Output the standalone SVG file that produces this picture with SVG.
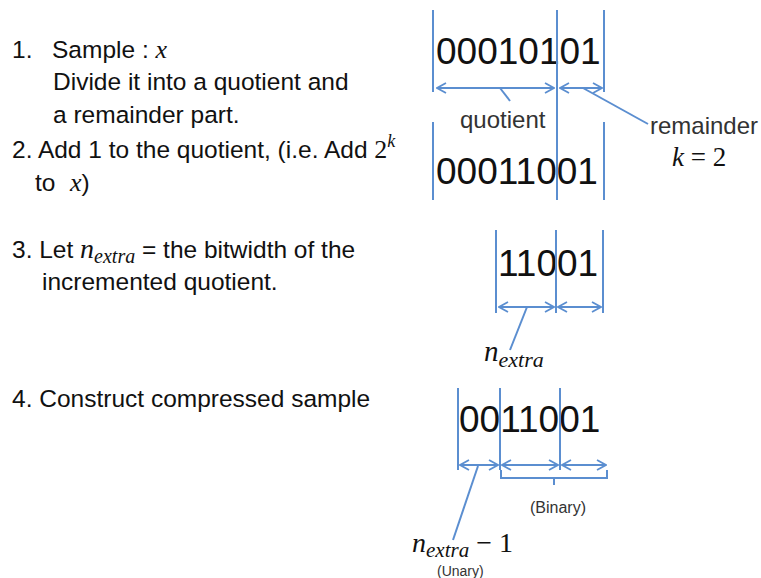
<svg xmlns="http://www.w3.org/2000/svg" width="761" height="578" viewBox="0 0 761 578">
<defs>
<marker id="ah" viewBox="0 0 12 12" refX="11" refY="6" markerWidth="12" markerHeight="12" markerUnits="userSpaceOnUse" orient="auto-start-reverse">
<path d="M2,1 L11,6 L2,11" fill="none" stroke="#5B8ED0" stroke-width="1.8"/>
</marker>
<style>
.t{font-family:"Liberation Sans",Arial,sans-serif;font-size:24.5px;fill:#111}
.m{font-family:"Liberation Serif","DejaVu Serif",serif;font-style:italic;fill:#111}
.r{font-family:"Liberation Serif","DejaVu Serif",serif;fill:#111}
.d{font-family:"Liberation Sans",Arial,sans-serif;font-size:37px;fill:#111}
.s{font-family:"Liberation Sans",Arial,sans-serif;fill:#333}
.ln{stroke:#5B8ED0;stroke-width:2;fill:none}
.ar{stroke:#5B8ED0;stroke-width:2;fill:none;marker-start:url(#ah);marker-end:url(#ah)}
</style>
</defs>
<rect width="761" height="578" fill="#fff"/>
<g id="steps">
<text class="t" x="12" y="58">1.<tspan x="52">Sample : </tspan><tspan class="m" font-size="26">x</tspan></text>
<text class="t" x="53" y="90">Divide it into a quotient and</text>
<text class="t" x="53" y="123">a remainder part.</text>
<text class="t" x="12" y="158">2. Add 1 to the quotient, (i.e. Add <tspan class="r" font-size="26">2</tspan><tspan class="m" font-size="18" dy="-11">k</tspan></text>
<text class="t" x="35" y="191">to<tspan class="m" font-size="26" x="70">x</tspan>)</text>
<text class="t" x="12" y="258">3. Let <tspan class="m" font-size="28">n</tspan><tspan class="m" font-size="20" dy="5">extra</tspan><tspan dy="-5"> = the bitwidth of the</tspan></text>
<text class="t" x="42" y="290">incremented quotient.</text>
<text class="t" x="12" y="407">4. Construct compressed sample</text>
</g>
<g id="sample1">
<text class="d" x="436" y="64">00010101</text>
</g>
<g id="sample2">
<text class="d" x="436" y="184">00011001</text>
</g>
<g id="sample3">
<text class="d" x="498" y="276">11001</text>
</g>
<g id="sample4">
<text class="d" x="459" y="432">0011001</text>
</g>
<g id="labels">
<text class="s" x="460" y="128" font-size="24">quotient</text>
<text class="s" x="650" y="134" font-size="24" fill="#111">remainder</text>
<text class="m" x="672" y="166" font-size="27">k<tspan class="r" font-style="normal"> = 2</tspan></text>
<text class="m" x="484" y="361" font-size="29">n<tspan font-size="22" dy="6">extra</tspan></text>
<text class="s" x="530" y="513" font-size="16">(Binary)</text>
<text class="m" x="412" y="552" font-size="28">n<tspan font-size="21" dy="5">extra</tspan><tspan class="r" font-style="normal" dy="-5"> − 1</tspan></text>
<text class="s" x="437" y="576" font-size="14">(Unary)</text>
</g>
<g id="connectors">
<line class="ln" x1="433" y1="10" x2="433" y2="92"/>
<line class="ln" x1="557" y1="10" x2="557" y2="200"/>
<line class="ln" x1="604" y1="10" x2="604" y2="92"/>
<line class="ln" x1="433" y1="122" x2="433" y2="200"/>
<line class="ln" x1="604" y1="122" x2="604" y2="200"/>
<line class="ar" x1="437" y1="88" x2="554" y2="88"/>
<line class="ar" x1="560" y1="88" x2="602" y2="88"/>
<line class="ln" x1="500" y1="88" x2="510" y2="101"/>
<line class="ln" x1="583" y1="88" x2="648" y2="124"/>
<line class="ln" x1="496" y1="230" x2="496" y2="313"/>
<line class="ln" x1="556" y1="230" x2="556" y2="313"/>
<line class="ln" x1="603" y1="230" x2="603" y2="313"/>
<line class="ar" x1="499" y1="307" x2="554" y2="307"/>
<line class="ar" x1="558" y1="307" x2="601" y2="307"/>
<line class="ln" x1="527" y1="307" x2="510" y2="350"/>
<line class="ln" x1="458" y1="388" x2="458" y2="470"/>
<line class="ln" x1="500" y1="388" x2="500" y2="470"/>
<line class="ln" x1="560" y1="388" x2="560" y2="470"/>
<line class="ar" x1="460" y1="465" x2="498" y2="465"/>
<line class="ar" x1="502" y1="465" x2="558" y2="465"/>
<line class="ar" x1="562" y1="465" x2="606" y2="465"/>
<path class="ln" d="M501,470 V478 H607 V470 M554,478 V485"/>
<line class="ln" x1="478" y1="466" x2="453" y2="540"/>
</g>
</svg>
